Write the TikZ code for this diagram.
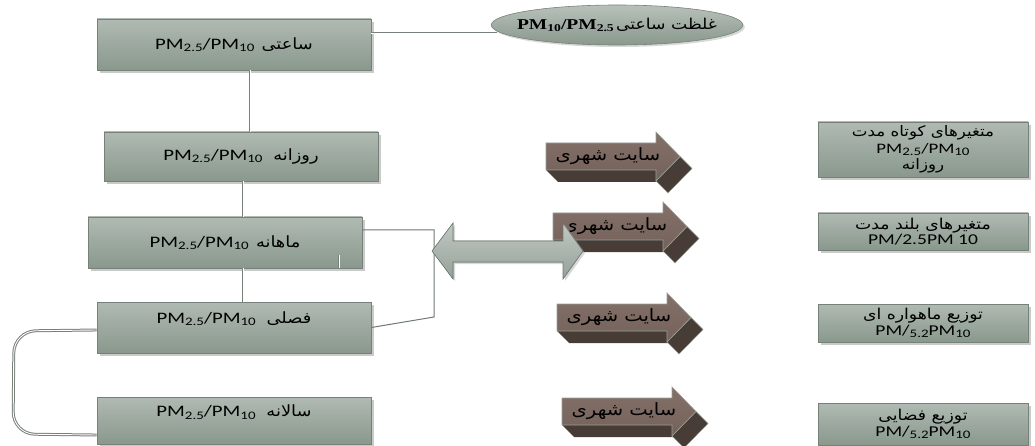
\documentclass[tikz,border=0pt]{standalone}
\usepackage{fontspec}
\setmainfont{Carlito}
\newfontfamily\lat[FakeStretch=1.3]{Carlito}
\newfontfamily\ar[Script=Arabic,FakeStretch=1.15]{DejaVu Sans}
\newfontfamily\ser[FakeStretch=1.3]{Liberation Serif}
\TeXXeTstate=1
\usetikzlibrary{shadows,shapes.geometric}
\definecolor{boxtop}{RGB}{176,186,178}
\definecolor{boxbot}{RGB}{137,152,141}
\definecolor{boxline}{RGB}{118,130,121}
\definecolor{brtop}{RGB}{132,112,104}
\definecolor{brbot}{RGB}{116,98,90}
\definecolor{brdark}{RGB}{72,60,55}
\definecolor{brline}{RGB}{150,160,150}
\definecolor{conline}{RGB}{120,128,122}
\definecolor{condark}{RGB}{110,122,113}
\newcommand\subt[1]{\raisebox{-2.5pt}{\fontsize{11.5}{11}\selectfont #1}}
\newcommand\pmtext{{\lat PM\subt{2.5}/PM\subt{10}}}
\newcommand\pmsat{{\lat PM/\subt{5.2}PM\subt{10}}}
\newcommand\brownarrow[3]{%
  \begin{scope}[shift={(#2,#3)}]
    \fill[brdark] (0,27) -- (110,27) -- (122,39) -- (12,39) -- cycle;
    \filldraw[fill=brdark, draw=brline, line width=0.4pt] (134,13.5) -- (146,25.5) -- (122,50) -- (110,38) -- cycle;
    \draw[brline, line width=0.6pt, top color=brtop, bottom color=brbot] (0,0) -- (110,0) -- (110,-11) -- (134,13.5) -- (110,38) -- (110,27) -- (0,27) -- cycle;
    \node[font=\fontsize{17}{18}\selectfont] (#1) at (62,13) {\ar\beginR سایت شهری\endR};
  \end{scope}}
\begin{document}
\begin{tikzpicture}[x=1pt,y=-1pt,
  lbox/.style={draw=boxline, line width=0.6pt, top color=boxtop, bottom color=boxbot,
    drop shadow={shadow xshift=3pt, shadow yshift=-3pt, fill=black!35, opacity=0.6},
    inner sep=0pt, minimum width=274pt, font=\fontsize{16}{18}\selectfont},
  rbox/.style={lbox, minimum width=210pt, align=center, font=\fontsize{15}{17}\selectfont},
  conn/.style={draw=conline, double=white, double distance=0.9pt, line width=1pt},
  condk/.style={draw=condark, line width=1pt}]
\useasboundingbox (0,0) rectangle (1035,446);

% left boxes
\node[lbox, minimum height=51pt] (b1) at (234,44.5) {\pmtext\ \ {\ar\fontsize{15.5}{18}\selectfont\beginR ساعتی\endR}};
\node[lbox, minimum height=49pt] (b2) at (241,156.5) {\pmtext\ \ \ {\ar\fontsize{15.5}{18}\selectfont\beginR روزانه\endR}};
\node[lbox, minimum height=51pt] (b3) at (225,242.5) {\pmtext\ \ {\ar\fontsize{15.5}{18}\selectfont\beginR ماهانه\endR}};
\node[lbox, minimum height=51pt, text height=11pt, text depth=20pt] (b4) at (234,327.5) {\pmtext\ \ \ {\ar\fontsize{15.5}{18}\selectfont\beginR فصلی\endR}};
\node[lbox, minimum height=47pt, text height=11pt, text depth=19pt] (b5) at (234,420.5) {\pmtext\ \ \ {\ar\fontsize{15.5}{18}\selectfont\beginR سالانه\endR}};

% ellipse
\node[ellipse, draw=boxline, line width=0.6pt, top color=boxtop!90!white, bottom color=boxbot,
  drop shadow={shadow xshift=2pt, shadow yshift=-2pt, fill=black!30, opacity=0.5},
  minimum width=249pt, minimum height=40pt, inner ysep=0pt, inner xsep=-11pt] (ell) at (617,25)
  {{\ser\bfseries\fontsize{15}{16}\selectfont PM\raisebox{-2pt}{\fontsize{10.5}{10}\selectfont 10}/PM\raisebox{-2pt}{\fontsize{10.5}{10}\selectfont 2.5}}\ {\ar\fontsize{15}{15}\selectfont\beginR غلظت ساعتی\endR}};

% connectors on the left
\draw[conn] ([yshift=11.5pt]b1.east) -- ([xshift=6pt,yshift=-8pt]ell.west);
\draw[conn] ([xshift=16pt]b1.south) -- ([xshift=9pt]b2.north);
\draw[conn] ([xshift=2pt]b2.south) -- ([xshift=18pt]b3.north);
\draw[conn] ([xshift=18pt]b3.south) -- ([xshift=9pt]b4.north);
\draw[conn, line width=0.5pt, double distance=1pt] ([xshift=114pt]b3.south) -- ++(0,-13);
\coordinate (k) at (434,317);
\draw[condk] ([yshift=12.5pt]b3.east) -| (k) -- (b4.east);
\draw[conn, rounded corners=22pt] ([yshift=-2.5pt]b4.west) -- (14,331) -- (13,434) -- ([yshift=-14.5pt]b5.west);

% brown arrows
\brownarrow{a1}{546}{143}
\brownarrow{a2}{553}{213}
\brownarrow{a3}{557}{304}
\brownarrow{a4}{562}{398}

% double arrow
\filldraw[draw=condark, line width=0.6pt, top color=boxtop!80!white, bottom color=boxbot!90!white,
  drop shadow={shadow xshift=2pt, shadow yshift=-2pt, fill=black!30, opacity=0.5}]
  (432,251) -- (453,223) -- (453,241) -- (563,241) -- (563,223) -- (583,251) -- (563,279) -- (563,262) -- (453,262) -- (453,279) -- cycle;

% right boxes
\node[rbox, minimum height=55pt, font=\fontsize{14.5}{16.5}\selectfont] (r1) at (923,149.5)
  {{\ar\beginR متغیرهای کوتاه مدت\endR}\\\pmtext\\{\ar\beginR روزانه\endR}};
\node[rbox, minimum height=37pt] (r2) at (923,231.5)
  {{\ar\beginR متغیرهای بلند مدت\endR}\\[-2pt]{\lat PM/2.5PM 10}};
\node[rbox, minimum height=38pt] (r3) at (923,323)
  {{\ar\beginR توزیع ماهواره ای\endR}\\[-1pt]\pmsat};
\node[rbox, minimum height=42pt] (r4) at (923,424)
  {{\ar\beginR توزیع فضایی\endR}\\[-1pt]\pmsat};
\end{tikzpicture}
\end{document}
